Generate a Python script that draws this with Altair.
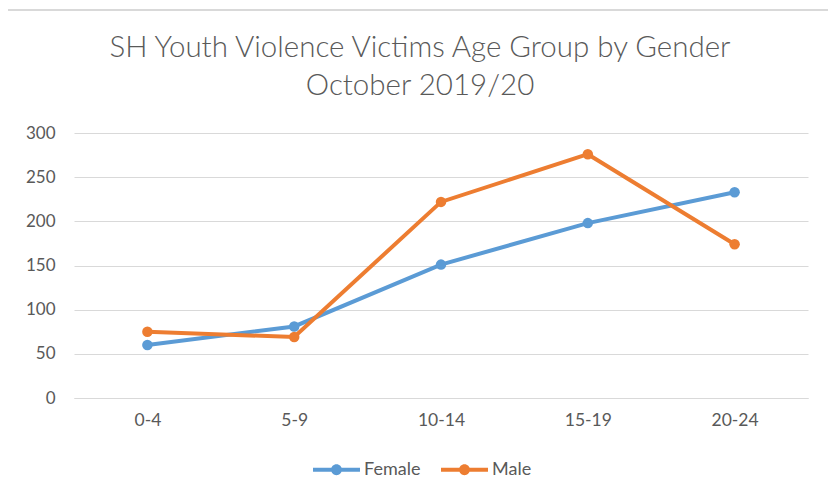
import altair as alt
import pandas as pd

age_groups = ["0-4", "5-9", "10-14", "15-19", "20-24"]
female = [60, 81, 151, 198, 233]
male = [75, 69, 222, 276, 174]
series = ["Female", "Male"]
colors = ["#5B9BD5", "#ED7D31"]
title_lines = ["SH Youth Violence Victims Age Group by Gender", "October 2019/20"]

rows = []
for i, a in enumerate(age_groups):
    rows.append({"age": a, "gender": "Female", "value": female[i]})
    rows.append({"age": a, "gender": "Male", "value": male[i]})
df = pd.DataFrame(rows)

FONT = "Lato"
GREY = "#595959"

legend_path = ("M -2.5 -0.2 L 2.5 -0.2 L 2.5 0.2 L -2.5 0.2 Z "
               "M -0.58 0 A 0.58 0.58 0 1 1 0.58 0 A 0.58 0.58 0 1 1 -0.58 0 Z")

x = alt.X("age:N", sort=age_groups, title=None,
          scale=alt.Scale(paddingInner=0, paddingOuter=0.5),
          axis=alt.Axis(labelAngle=0, labelFont=FONT, labelFontSize=17.5, labelColor=GREY,
                        ticks=False, domain=True, domainColor="#D9D9D9", domainWidth=1,
                        labelPadding=13, grid=False))
y = alt.Y("value:Q", title=None,
          scale=alt.Scale(domain=[0, 300], nice=False),
          axis=alt.Axis(values=[0, 50, 100, 150, 200, 250, 300], labelFont=FONT,
                        labelFontSize=17, labelColor=GREY, ticks=False, domain=False,
                        grid=True, gridColor="#D9D9D9", gridWidth=1, labelPadding=19))
color = alt.Color("gender:N", title=None,
                  scale=alt.Scale(domain=series, range=colors),
                  legend=alt.Legend(orient="none", legendX=253, legendY=327,
                                    direction="horizontal", symbolType=legend_path,
                                    symbolSize=353, symbolStrokeWidth=0,
                                    labelFont=FONT, labelFontSize=18, labelColor=GREY,
                                    labelOffset=18, columnPadding=20))

frame = alt.Chart(pd.DataFrame({"d": [0]})).mark_rect(
    fillOpacity=0, stroke="#D9D9D9", strokeWidth=2
).encode(x=alt.value(-69), x2=alt.value(756), y=alt.value(-123), y2=alt.value(372))

title1 = alt.Chart(pd.DataFrame({"t": [title_lines[0]]})).mark_text(
    font=FONT, fontSize=29.5, fontWeight=300, color=GREY, align="center", baseline="middle"
).encode(text="t:N", x=alt.value(346), y=alt.value(-85))
title2 = alt.Chart(pd.DataFrame({"t": [title_lines[1]]})).mark_text(
    font=FONT, fontSize=29.5, fontWeight=300, color=GREY, align="center", baseline="middle"
).encode(text="t:N", x=alt.value(346), y=alt.value(-47))

lines = alt.Chart(df).mark_line(strokeWidth=4).encode(x=x, y=y, color=color)
points = alt.Chart(df).mark_circle(size=110, opacity=1).encode(x=x, y=y, color=color)

chart = alt.layer(frame, title1, title2, lines, points).properties(
    width=734, height=265,
    autosize=alt.AutoSizeParams(type="none"),
    padding={"left": 66, "top": 125, "right": 20, "bottom": 96},
).configure_view(stroke=None)

chart.save("out.html", embed_options={"renderer": "svg", "actions": False})
